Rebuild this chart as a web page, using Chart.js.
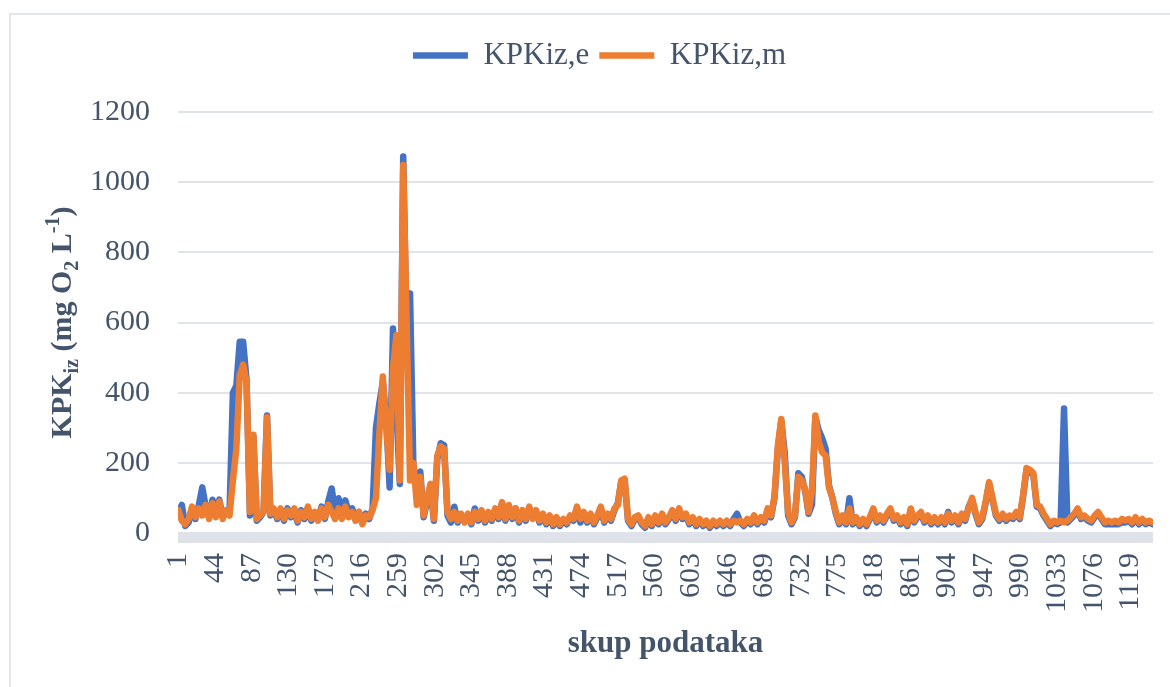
<!DOCTYPE html>
<html>
<head>
<meta charset="utf-8">
<script src="https://cdn.jsdelivr.net/npm/chart.js@4.4.1/dist/chart.umd.min.js"></script>
<style>
    html, body { margin: 0; padding: 0; background: #fff; }
    .wrap { position: relative; width: 1170px; height: 687px; overflow: hidden; }
    .frame { position: absolute; left: 9px; top: 13px; width: 1200px; height: 700px; border: 2px solid #e2e5ea; pointer-events: none; }
</style>
</head>
<body>
<div class="wrap">
    <canvas id="check" width="1170" height="687"></canvas>
    <div class="frame"></div>
</div>

<script>
// values, one reading every 4 records (records 1, 5, 9 ... 1145)
const step = 4;
const kpkE = [
    60, 80, 20, 30, 65, 40, 80, 130, 75, 45,
    95, 60, 95, 45, 60, 60, 400, 420, 545, 545,
    435, 50, 275, 35, 45, 60, 335, 50, 65, 40,
    65, 35, 70, 45, 60, 30, 65, 40, 70, 35,
    55, 40, 75, 40, 90, 127, 60, 99, 70, 93,
    60, 70, 40, 60, 30, 55, 40, 70, 300, 370,
    430, 330, 130, 583, 350, 140, 1073, 560, 683, 180,
    165, 175, 45, 90, 130, 35, 210, 256, 250, 50,
    30, 75, 30, 50, 35, 50, 25, 70, 35, 60,
    30, 55, 35, 65, 40, 85, 35, 75, 40, 70,
    30, 60, 35, 70, 45, 60, 30, 50, 25, 45,
    20, 40, 20, 35, 25, 45, 35, 70, 30, 55,
    30, 50, 25, 45, 70, 30, 50, 35, 65, 85,
    145, 150, 35, 20, 40, 45, 25, 15, 40, 20,
    45, 25, 50, 25, 40, 60, 35, 65, 40, 50,
    25, 40, 20, 35, 20, 30, 15, 30, 20, 30,
    20, 30, 20, 40, 55, 30, 20, 35, 25, 45,
    25, 40, 30, 60, 45, 100, 240, 320, 230, 50,
    25, 45, 170, 160, 120, 55, 80, 330, 293, 270,
    240, 135, 100, 55, 25, 45, 25, 99, 25, 40,
    20, 35, 20, 40, 65, 30, 45, 30, 50, 65,
    35, 45, 25, 40, 20, 65, 30, 45, 55, 30,
    45, 25, 40, 25, 40, 25, 60, 30, 45, 25,
    50, 35, 75, 95, 55, 25, 40, 85, 140, 95,
    50, 35, 50, 35, 45, 40, 55, 40, 105, 180,
    175, 165, 75, 70, 50, 35, 20, 30, 25, 30,
    355, 30, 40, 50, 65, 40, 45, 35, 30, 45,
    55, 40, 25, 25, 25, 25, 25, 30, 30, 35,
    25, 40, 25, 35, 25, 30, 25
];
const kpkM = [
    65, 35, 25, 40, 75, 45, 70, 50, 80, 40,
    85, 45, 90, 40, 65, 50, 150, 240, 450, 480,
    430, 60, 280, 40, 50, 60, 330, 55, 70, 45,
    70, 40, 65, 50, 70, 35, 60, 45, 75, 40,
    60, 35, 70, 45, 80, 60, 40, 70, 40, 75,
    45, 60, 35, 60, 25, 50, 45, 65, 100, 285,
    446, 300, 180, 470, 564, 150, 1049, 600, 150, 200,
    80, 160, 50, 100, 140, 40, 220, 247, 240, 60,
    40, 60, 35, 55, 30, 55, 30, 60, 40, 65,
    35, 60, 40, 70, 45, 88, 40, 80, 45, 70,
    35, 65, 40, 75, 40, 65, 35, 55, 30, 50,
    25, 45, 25, 40, 30, 50, 40, 75, 40, 60,
    35, 55, 30, 50, 75, 35, 55, 40, 70, 80,
    150, 155, 40, 25, 45, 50, 30, 20, 45, 25,
    50, 30, 55, 30, 45, 65, 40, 70, 45, 55,
    30, 45, 25, 40, 25, 35, 20, 35, 25, 35,
    25, 35, 25, 35, 30, 35, 25, 40, 30, 50,
    30, 45, 35, 70, 50, 105, 250, 325, 200, 60,
    30, 50, 160, 150, 125, 60, 120, 335, 260, 230,
    220, 130, 100, 60, 30, 50, 30, 70, 30, 45,
    25, 40, 25, 45, 70, 35, 50, 35, 55, 70,
    40, 50, 30, 45, 25, 70, 35, 50, 60, 35,
    50, 30, 45, 30, 45, 30, 55, 35, 50, 30,
    55, 40, 70, 100, 60, 30, 45, 90, 145, 100,
    55, 40, 55, 40, 50, 45, 60, 45, 110, 185,
    180, 170, 80, 75, 55, 40, 25, 35, 30, 35,
    30, 35, 45, 55, 70, 45, 50, 40, 35, 50,
    60, 45, 30, 35, 30, 35, 30, 40, 35, 40,
    30, 45, 30, 40, 30, 35, 30
];
const tickLabels = [1, 44, 87, 130, 173, 216, 259, 302, 345, 388, 431, 474, 517, 560,
    603, 646, 689, 732, 775, 818, 861, 904, 947, 990, 1033, 1076, 1119];
const yTicks = [0, 200, 400, 600, 800, 1000, 1200];
const seriesNames = ["KPKiz,e", "KPKiz,m"];

const records = kpkE.map((v, k) => 1 + k * step);
const textColor = "#44546a";
const serif = "'Liberation Serif', 'Times New Roman', serif";

const axisBand = {
    id: "axisBand",
    beforeDatasetsDraw(chart) {
        const { ctx, chartArea } = chart;
        const y0 = chart.scales.y.getPixelForValue(0);
        ctx.save();
        ctx.fillStyle = "#dfe3e9";
        ctx.fillRect(chartArea.left, y0 - 1, chartArea.right - chartArea.left, 11);
        ctx.restore();
    },
};

// y title with sub/superscripts: KPK_iz (mg O_2 L^-1)
const yTitle = {
    id: "yTitle",
    afterDraw(chart) {
        const ctx = chart.ctx;
        const big = "bold 30px " + serif;
        const small = "bold 20px " + serif;
        const parts = [
            ["KPK", big, 0],
            ["iz", small, 7],
            [" (mg O", big, 0],
            ["2", small, 7],
            [" L", big, 0],
            ["-1", small, -12],
            [")", big, 0],
        ];
        ctx.save();
        let total = 0;
        parts.forEach((p) => { ctx.font = p[1]; total += ctx.measureText(p[0]).width; });
        const cx = 71, cy = (chart.chartArea.top + chart.chartArea.bottom) / 2;
        ctx.translate(cx, cy);
        ctx.rotate(-Math.PI / 2);
        ctx.fillStyle = textColor;
        ctx.textBaseline = "alphabetic";
        let x = -total / 2;
        parts.forEach((p) => {
            ctx.font = p[1];
            ctx.fillText(p[0], x, p[2]);
            x += ctx.measureText(p[0]).width;
        });
        ctx.restore();
    },
};

new Chart(document.getElementById("check"), {
    type: "line",
    data: {
        datasets: [
            {
                label: seriesNames[0],
                data: records.map((r, k) => ({ x: r, y: kpkE[k] })),
                borderColor: "#4472c4",
                backgroundColor: "#4472c4",
                borderWidth: 6.5,
                borderCapStyle: "round",
                borderJoinStyle: "round",
                pointRadius: 0,
                order: 1,
            },
            {
                label: seriesNames[1],
                data: records.map((r, k) => ({ x: r, y: kpkM[k] })),
                borderColor: "#ed7d31",
                backgroundColor: "#ed7d31",
                borderWidth: 6.5,
                borderCapStyle: "round",
                borderJoinStyle: "round",
                pointRadius: 0,
                order: 0,
            },
        ],
    },
    options: {
        responsive: false,
        animation: false,
        devicePixelRatio: 1,
        layout: { padding: { top: 30, left: 46, right: 17, bottom: 0 } },
        plugins: {
            tooltip: { enabled: false },
            legend: {
                position: "top",
                labels: {
                    usePointStyle: true,
                    pointStyle: "line",
                    pointStyleWidth: 55,
                    padding: 10,
                    color: textColor,
                    font: { family: serif, size: 31 },
                    sort: (a, b) => a.datasetIndex - b.datasetIndex,
                },
            },
            title: {
                display: true,
                text: "",
                weight: 500,
                font: { size: 12, lineHeight: 1 },
                padding: { top: 10, bottom: 9 },
            },
        },
        scales: {
            x: {
                type: "linear",
                min: 0.5,
                max: records[records.length - 1] + 0.5,
                afterBuildTicks: (scale) => { scale.ticks = tickLabels.map((v) => ({ value: v })); },
                afterFit: (scale) => {
                    scale.height = 154;
                    scale.paddingLeft = 0;
                    scale.paddingRight = 0;
                },
                grid: { display: false, drawTicks: false },
                border: { display: false },
                ticks: {
                    autoSkip: false,
                    minRotation: 90,
                    maxRotation: 90,
                    padding: 20,
                    color: textColor,
                    font: { family: serif, size: 30 },
                    callback: (v) => String(v),
                },
                title: {
                    display: true,
                    text: "skup podataka",
                    color: textColor,
                    font: { family: serif, size: 31, weight: "bold", lineHeight: 1.2 },
                    padding: { top: 0, bottom: 24 },
                },
            },
            y: {
                min: yTicks[0],
                max: yTicks[yTicks.length - 1],
                afterBuildTicks: (scale) => { scale.ticks = yTicks.map((v) => ({ value: v })); },
                afterFit: (scale) => { scale.width = 132; },
                grid: { color: "#e0e3e8", lineWidth: 2, drawTicks: false },
                border: { display: false },
                ticks: {
                    padding: 28,
                    color: textColor,
                    font: { family: serif, size: 30 },
                    callback: (v) => String(v),
                },
            },
        },
    },
    plugins: [axisBand, yTitle],
});
</script>
</body>
</html>
